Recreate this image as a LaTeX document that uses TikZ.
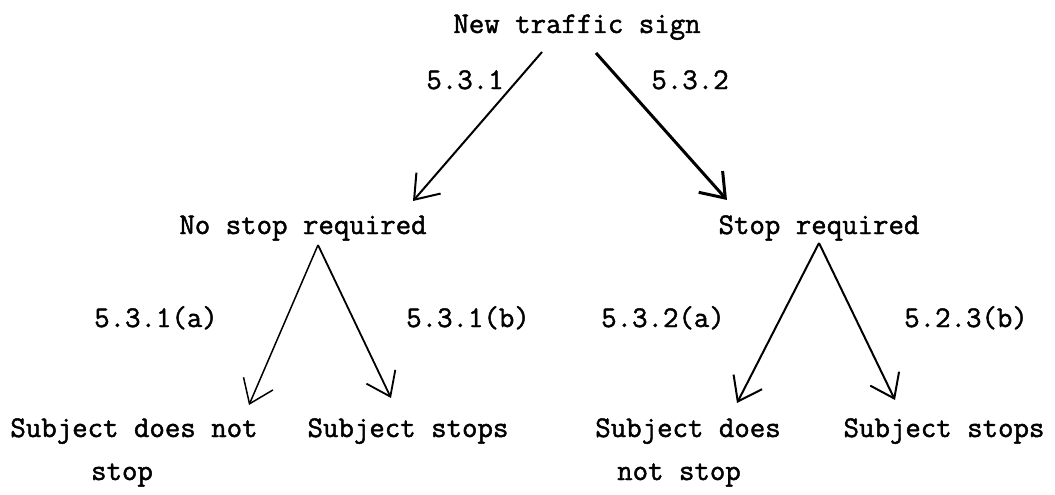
\documentclass[tikz,border=0pt]{standalone}
\usepackage{fontspec}
\setmonofont{Latin Modern Mono}[FakeBold=1.5]
\usetikzlibrary{arrows.meta}
\begin{document}
\begin{tikzpicture}[x=1pt,y=-1pt,
  font=\fontsize{30}{36}\selectfont\ttfamily,
  lbl/.style={inner sep=0pt, anchor=base},
  arr/.style={-{Straight Barb[length=22pt,width=32pt]}, line width=1.8pt}]
\useasboundingbox (0,0) rectangle (1055,495);
% texts
\node[lbl] (root) at (577,33) {New traffic sign};
\node[lbl] (l1) at (465,89) {5.3.1};
\node[lbl] (l2) at (690,89) {5.3.2};
\node[lbl] (nostop) at (303,234) {No stop required};
\node[lbl] (stop) at (819,234) {Stop required};
\node[lbl] (la) at (156,327) {5.3.1(a)};
\node[lbl] (lb) at (468,327) {5.3.1(b)};
\node[lbl] (ra) at (663,327) {5.3.2(a)};
\node[lbl] (rb) at (966,327) {5.2.3(b)};
\node[lbl] (ll) at (134,437) {Subject does not};
\node[lbl] (ll2) at (122,480) {stop};
\node[lbl] (lr) at (408,437) {Subject stops};
\node[lbl] (rl) at (688,437) {Subject does};
\node[lbl] (rl2) at (679,480) {not stop};
\node[lbl] (rr) at (944,437) {Subject stops};
% connector ends
\coordinate (rootL) at (542,52);
\coordinate (rootR) at (596,53);
\coordinate (nostopT) at (413,201);
\coordinate (stopT) at (727,200);
\coordinate (nsB) at (318,245);
\coordinate (sB) at (819,243);
\coordinate (llT) at (249,405);
\coordinate (lrT) at (391,398);
\coordinate (rlT) at (737,403);
\coordinate (rrT) at (895,400);
% connectors
\draw[arr, line width=2pt] (rootL) -- (nostopT);
\draw[arr, line width=3pt] (rootR) -- (stopT);
\draw[arr, line width=1.5pt] (nsB) -- (llT);
\draw[arr] (nsB) -- (lrT);
\draw[arr, line width=2pt] (sB) -- (rlT);
\draw[arr, line width=2pt] (sB) -- (rrT);
\end{tikzpicture}
\end{document}
